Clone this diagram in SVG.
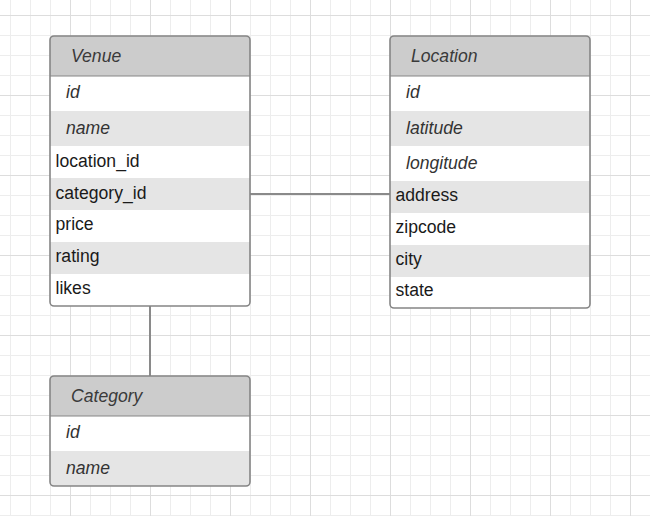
<svg xmlns="http://www.w3.org/2000/svg" width="650" height="516" viewBox="0 0 650 516">
<defs>
<pattern id="minor" x="10" y="15" width="20" height="20" patternUnits="userSpaceOnUse">
<path d="M0.5 0V20M0 0.5H20" fill="none" stroke="#ededed" stroke-width="1"/>
</pattern>
<pattern id="major" x="70" y="15" width="80" height="80" patternUnits="userSpaceOnUse">
<path d="M0.5 0V80M0 0.5H80" fill="none" stroke="#dddddd" stroke-width="1"/>
</pattern>
<clipPath id="cv"><rect x="50" y="36" width="200" height="270" rx="4"/></clipPath>
<clipPath id="cl"><rect x="390" y="36" width="200" height="272" rx="4"/></clipPath>
<clipPath id="cc"><rect x="50" y="376" width="200" height="110" rx="4"/></clipPath>
</defs>
<style>
.hdr{fill:#cccccc}
.alt{fill:#e5e5e5}
.wht{fill:#ffffff}
.frame{fill:none;stroke:#858585;stroke-width:1.6}
.sep{stroke:#858585;stroke-width:1.2}
.t{font-family:"Liberation Sans",Arial,sans-serif;font-size:17.6px}
.h{font-style:italic;fill:#3a3a3a}
.i{font-style:italic;fill:#333333}
.n{fill:#1a1a1a}
.conn{stroke:#8a8a8a;stroke-width:2;fill:none}
</style>
<rect width="650" height="516" fill="#ffffff"/>
<rect width="650" height="516" fill="url(#minor)"/>
<rect width="650" height="516" fill="url(#major)"/>

<g id="connectors">
<line class="conn" x1="250" y1="194" x2="390" y2="194"/>
<line class="conn" x1="150" y1="306" x2="150" y2="376"/>
</g>

<g id="venue">
<g clip-path="url(#cv)">
<rect class="hdr" x="50" y="36" width="200" height="40"/>
<rect class="wht" x="50" y="76" width="200" height="35"/>
<rect class="alt" x="50" y="111" width="200" height="35"/>
<rect class="wht" x="50" y="146" width="200" height="32"/>
<rect class="alt" x="50" y="178" width="200" height="32"/>
<rect class="wht" x="50" y="210" width="200" height="32"/>
<rect class="alt" x="50" y="242" width="200" height="32"/>
<rect class="wht" x="50" y="274" width="200" height="32"/>
</g>
<line class="sep" x1="50" y1="76" x2="250" y2="76"/>
<rect class="frame" x="50" y="36" width="200" height="270" rx="4"/>
<text class="t h" x="71" y="62">Venue</text>
<text class="t i" x="66" y="98">id</text>
<text class="t i" x="66" y="134">name</text>
<text class="t n" x="55.5" y="166.5">location_id</text>
<text class="t n" x="55.5" y="198.5">category_id</text>
<text class="t n" x="55.5" y="230">price</text>
<text class="t n" x="55.5" y="262">rating</text>
<text class="t n" x="55.5" y="293.5">likes</text>
</g>

<g id="location">
<g clip-path="url(#cl)">
<rect class="hdr" x="390" y="36" width="200" height="40"/>
<rect class="wht" x="390" y="76" width="200" height="35"/>
<rect class="alt" x="390" y="111" width="200" height="35"/>
<rect class="wht" x="390" y="146" width="200" height="35"/>
<rect class="alt" x="390" y="181" width="200" height="32"/>
<rect class="wht" x="390" y="213" width="200" height="32"/>
<rect class="alt" x="390" y="245" width="200" height="32"/>
<rect class="wht" x="390" y="277" width="200" height="31"/>
</g>
<line class="sep" x1="390" y1="76" x2="590" y2="76"/>
<rect class="frame" x="390" y="36" width="200" height="272" rx="4"/>
<text class="t h" x="411" y="62">Location</text>
<text class="t i" x="406" y="98">id</text>
<text class="t i" x="406" y="133.5">latitude</text>
<text class="t i" x="406" y="169">longitude</text>
<text class="t n" x="395.5" y="201">address</text>
<text class="t n" x="395.5" y="232.5">zipcode</text>
<text class="t n" x="395.5" y="264.5">city</text>
<text class="t n" x="395.5" y="296">state</text>
</g>

<g id="category">
<g clip-path="url(#cc)">
<rect class="hdr" x="50" y="376" width="200" height="40"/>
<rect class="wht" x="50" y="416" width="200" height="35"/>
<rect class="alt" x="50" y="451" width="200" height="35"/>
</g>
<line class="sep" x1="50" y1="416" x2="250" y2="416"/>
<rect class="frame" x="50" y="376" width="200" height="110" rx="4"/>
<text class="t h" x="71" y="402">Category</text>
<text class="t i" x="66" y="438">id</text>
<text class="t i" x="66" y="473.5">name</text>
</g>
</svg>
